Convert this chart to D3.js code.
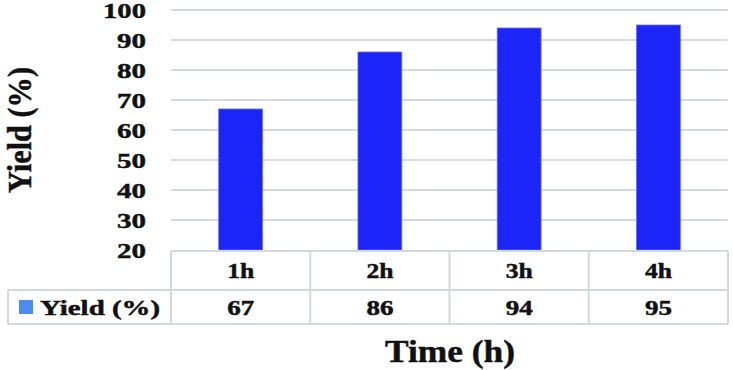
<!DOCTYPE html>
<html><head><meta charset="utf-8">
<script src="https://cdn.jsdelivr.net/npm/d3@7"></script>
<style>html,body{margin:0;padding:0;background:#fff;}svg{display:block;}text{font-family:"Liberation Serif","Times New Roman",serif;font-weight:bold;fill:#111;stroke:#111;stroke-width:0.45px;}</style>
</head><body>
<svg id="c" width="733" height="370"></svg>
<script>
const categories = ["1h", "2h", "3h", "4h"];
const yieldValues = [67, 86, 94, 95];
const yTicks = [20, 30, 40, 50, 60, 70, 80, 90, 100];
const seriesName = "Yield (%)";
const xTitle = "Time (h)";
const yTitle = "Yield (%)";

(function () {
const svg = d3.select("#c");
const pLeft = 171, pRight = 728, pTop = 10, pBottom = 250;
const y = d3.scaleLinear().domain([20, 100]).range([pBottom, pTop]);
const x = d3.scaleBand().domain(categories).range([pLeft, pRight]).padding(0);
const barW = x.bandwidth() * 0.315;

// gridlines
svg.append("g").selectAll("line").data(yTicks.filter(d => d > 20)).join("line")
  .attr("x1", pLeft).attr("x2", pRight)
  .attr("y1", d => y(d)).attr("y2", d => y(d))
  .attr("stroke", "#d3dbdb").attr("stroke-width", 2);

// tick labels
svg.append("g").selectAll("text").data(yTicks).join("text")
  .attr("x", 146).attr("y", d => y(d) + 7.5)
  .attr("text-anchor", "end")
  .attr("font-size", 22)
  .attr("textLength", d => String(d).length === 3 ? 43 : 29)
  .attr("lengthAdjust", "spacingAndGlyphs")
  .text(d => d);

// bars
svg.append("g").selectAll("rect").data(yieldValues).join("rect")
  .attr("x", (d, i) => x(categories[i]) + x.bandwidth() / 2 - barW / 2)
  .attr("width", barW)
  .attr("y", d => y(d))
  .attr("height", d => y(20) - y(d))
  .attr("fill", "#1b25f7")
  .attr("stroke", "#6a70f5").attr("stroke-width", 0.8);

// table
const tTop = 251, tMid = 290, tBot = 324, tLeft = 8;
const tg = svg.append("g").attr("stroke", "#d2d9d9").attr("stroke-width", 2).attr("fill", "none");
tg.append("line").attr("x1", pLeft).attr("x2", pRight).attr("y1", tTop).attr("y2", tTop);
tg.append("line").attr("x1", tLeft).attr("x2", pRight).attr("y1", tMid).attr("y2", tMid);
tg.append("line").attr("x1", tLeft).attr("x2", pRight).attr("y1", tBot).attr("y2", tBot);
tg.append("line").attr("x1", tLeft).attr("x2", tLeft).attr("y1", tMid).attr("y2", tBot);
tg.selectAll("line.v").data(categories.map(c => x(c)).concat([pRight])).join("line")
  .attr("class", "v")
  .attr("x1", d => d).attr("x2", d => d).attr("y1", tTop).attr("y2", tBot);

// header texts
svg.append("g").selectAll("text").data(categories).join("text")
  .attr("x", d => x(d) + x.bandwidth() / 2).attr("y", 278)
  .attr("text-anchor", "middle").attr("font-size", 20)
  .attr("textLength", 27).attr("lengthAdjust", "spacingAndGlyphs")
  .text(d => d);
// values
svg.append("g").selectAll("text").data(yieldValues).join("text")
  .attr("x", (d, i) => x(categories[i]) + x.bandwidth() / 2).attr("y", 315)
  .attr("text-anchor", "middle").attr("font-size", 20)
  .attr("textLength", 27).attr("lengthAdjust", "spacingAndGlyphs")
  .text(d => d);

// legend key
svg.append("rect").attr("x", 19).attr("y", 300).attr("width", 14).attr("height", 14).attr("fill", "#4a8cf0");
svg.append("text").attr("x", 40).attr("y", 315).attr("font-size", 20)
  .attr("textLength", 120).attr("lengthAdjust", "spacingAndGlyphs").text(seriesName);

// axis titles
svg.append("text").attr("x", 385).attr("y", 362).attr("font-size", 31)
  .attr("textLength", 130).attr("lengthAdjust", "spacingAndGlyphs").text(xTitle);
svg.append("text").attr("transform", "translate(31,130) rotate(-90)")
  .attr("text-anchor", "middle").attr("font-size", 33)
  .attr("textLength", 126).attr("lengthAdjust", "spacingAndGlyphs").text(yTitle);
})();
</script>
</body></html>
